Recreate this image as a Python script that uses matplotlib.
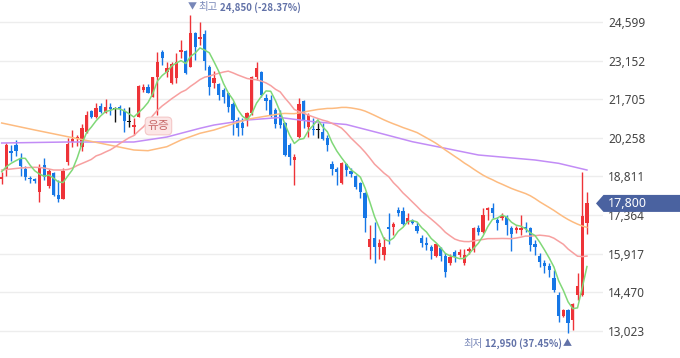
import numpy as np
import pandas as pd
import matplotlib
matplotlib.use('Agg')
import matplotlib.pyplot as plt
from matplotlib.patches import Polygon
from matplotlib.transforms import IdentityTransform

# ---------------- data ----------------
opens = [18715, 19090, 19783, 19971, 19465, 19090, 18764, 18726, 18239, 19240,
         18464, 18951, 18115, 17966, 19352, 20113, 20203, 19914, 20488, 21264,
         21050, 21451, 21200, 21425, 21365, 21425, 21264, 20863, 20675, 21050,
         22051, 22152, 21800, 22538, 23486, 22737, 22302, 22500, 23486, 23512,
         22924, 24176, 23951, 24150, 22924, 22302, 22294, 22051, 21927, 21526,
         20926, 20803, 20926, 21177, 22527, 22737, 21740, 21676, 21301, 21177,
         20803, 19989, 19427, 20300, 21638, 20675, 20589, 20563, 20465, 20240,
         19266, 19090, 18554, 19266, 19026, 18839, 18554, 18179, 16155, 16492,
         16178, 15867, 16927, 16905, 17553, 17516, 17115, 17178, 16954, 16492,
         16328, 16155, 15829, 16118, 15829, 15578, 15990, 15867, 15555, 16028,
         16054, 16867, 16740, 17553, 17617, 17178, 17242, 17302, 16867, 16804,
         16804, 16927, 16867, 16279, 15829, 15555, 15454, 14993, 14367, 13580,
         13805, 13430, 14367, 14367, 17077]
highs = [18977, 20064, 19989, 20177, 19708, 19184, 18827, 18764, 19277, 19491,
         19079, 18989, 18678, 19139, 20270, 20552, 20364, 20776, 21275, 21301,
         21552, 21575, 21702, 21552, 21425, 21489, 21365, 21425, 20990, 22238,
         22264, 22276, 22549, 23475, 23550, 23112, 23100, 23438, 23925, 23550,
         24850, 24225, 24611, 24300, 22988, 22774, 22313, 22114, 21950, 21612,
         21050, 20990, 21237, 22575, 23112, 22774, 21901, 21863, 21365, 21301,
         20863, 20053, 19641, 21740, 21676, 21177, 20990, 20803, 20803, 20364,
         19390, 19176, 19341, 19303, 19116, 18865, 18614, 18239, 16991, 17115,
         16455, 16530, 17452, 17115, 17654, 17677, 17452, 17205, 17115, 16616,
         16553, 16241, 16305, 16155, 15953, 15904, 16054, 16080, 16080, 16178,
         16905, 16991, 17617, 17654, 17804, 17302, 17430, 17366, 16954, 16954,
         17366, 17115, 16927, 16429, 15930, 15679, 15555, 15304, 14491, 13831,
         13831, 14050, 15181, 18989, 18239]
lows = [18528, 18827, 19390, 19577, 18809, 18659, 18565, 18554, 17864, 18678,
        18367, 18089, 17864, 17950, 19240, 19926, 19963, 19764, 20428, 20990,
        20990, 21177, 21177, 21114, 20863, 21114, 20488, 20675, 20364, 21039,
        21987, 21927, 21777, 21114, 22988, 22549, 22276, 22313, 23250, 22650,
        22913, 23175, 23737, 22800, 21863, 22114, 21676, 21552, 21237, 20364,
        20327, 20364, 20701, 21114, 22426, 21800, 21301, 21050, 20615, 20615,
        19577, 19240, 18490, 20240, 20615, 20300, 20364, 20240, 20177, 19764,
        18865, 18490, 18530, 18839, 18801, 18340, 17992, 16740, 15705, 15555,
        15705, 15679, 16279, 16616, 17328, 16991, 17028, 17028, 16680, 16155,
        16054, 15705, 15803, 15653, 15031, 15492, 15615, 15803, 15492, 15904,
        15990, 16616, 16702, 17178, 17242, 16804, 17178, 16616, 16028, 16680,
        16616, 16740, 16028, 15867, 15428, 15203, 15053, 14491, 13367, 13554,
        12950, 13056, 14180, 14330, 16654]
closes = [18790, 19989, 19708, 19764, 19202, 18790, 18715, 18651, 19139, 18801,
          19015, 18115, 17966, 19015, 20027, 20214, 20300, 20638, 21114, 21050,
          21387, 21237, 21425, 21339, 21365, 21327, 20900, 20863, 20739, 22201,
          22152, 21950, 22527, 23100, 23239, 22864, 23014, 23100, 23550, 22688,
          24187, 23662, 24048, 23156, 22163, 22489, 21863, 21800, 21402, 20908,
          20615, 20615, 21177, 22527, 22864, 21863, 21650, 21114, 20776, 20739,
          19615, 19551, 19551, 21515, 20926, 21114, 20540, 20563, 20214, 19989,
          19090, 18966, 19303, 19052, 18902, 18426, 18239, 17242, 16455, 16155,
          16305, 16178, 16841, 17028, 17430, 17028, 17242, 17055, 16777, 16328,
          16241, 16028, 16279, 15829, 15241, 15803, 15780, 15990, 15867, 16080,
          16867, 16740, 17366, 17617, 17430, 17077, 17328, 16991, 16654, 16867,
          16890, 16830, 16241, 16155, 15615, 15454, 15304, 14555, 13580, 13805,
          13307, 14030, 14705, 17328, 17800]

# moving-average values read from the picture where the window has no history
ma5_head = [18989, 19176, 19303, 19401]
ma20_head = [19052, 19071, 19090, 19109, 19127, 19139, 19146, 19154, 19146, 19127,
             19090, 19052, 19052, 19052, 19071, 19127, 19221, 19296, 19371]
ma60_head_idx = [0, 7, 14, 21, 28, 31, 35, 38, 42, 45, 52]
ma60_head = [20814, 20552, 20300, 20053, 19802, 19776, 19926, 20177, 20428, 20552, 20953]
ma120_idx = [0, 14, 28, 35, 42, 45, 52, 59, 66, 73, 80, 87, 94, 101, 113, 118, 124]
ma120_vals = [20064, 20102, 20102, 20289, 20615, 20739, 20926, 21020, 20863, 20758,
              20439, 20113, 19866, 19615, 19427, 19303, 19052]

y_ticks = [13023, 14470, 15917, 17364, 18811, 20258, 21705, 23152, 24599]
event_idx = 33
event_label = '유증'

# ---------------- style ----------------
UP = '#ee3338'
DOWN = '#1677e6'
FLAT = '#111111'
C_MA5 = '#80d878'
C_MA20 = '#f7a0a0'
C_MA60 = '#fdbb80'
C_MA120 = '#c28cf6'
KFONT = ['Noto Sans CJK KR', 'DejaVu Sans']
ANN_LIGHT = '#7887b8'
ANN_DARK = '#6272a8'

plt.rcParams['font.family'] = ['Noto Sans', 'Noto Sans CJK KR', 'DejaVu Sans']

W, H = 680, 358
fig = plt.figure(figsize=(W / 100, H / 100), dpi=100)
ax = fig.add_axes([0, 0, 603 / W, 1])

o = np.array(opens, float)
h = np.array(highs, float)
l = np.array(lows, float)
c = np.array(closes, float)
n = len(c)
x = np.arange(n)

ax.set_xlim(-0.36, 127.4)
ax.set_ylim(12006, 25424)

cols = [UP if cc > oo else (DOWN if cc < oo else FLAT) for oo, cc in zip(o, c)]
body_lo = np.minimum(o, c)
body_h = np.abs(c - o)
min_h = 28
body_lo = np.where(body_h < min_h, (o + c) / 2 - min_h / 2, body_lo)
body_h = np.maximum(body_h, min_h)

ax.vlines(x, l, h, colors=cols, linewidth=1.0, zorder=3)
ax.bar(x, body_h, bottom=body_lo, width=0.7, color=cols, linewidth=0, zorder=4)

# moving averages
s = pd.Series(c)
ma5 = s.rolling(5).mean().to_numpy()
ma20 = s.rolling(20).mean().to_numpy()
ma60 = s.rolling(60).mean().to_numpy()

x5 = list(range(4)) + list(range(4, n))
y5 = ma5_head + list(ma5[4:])
x20 = list(range(19)) + list(range(19, n))
y20 = ma20_head + list(ma20[19:])
x60 = ma60_head_idx + list(range(59, n))
y60 = ma60_head + list(ma60[59:])

ax.plot(ma120_idx, ma120_vals, color=C_MA120, lw=1.1, zorder=5)
ax.plot(x60, y60, color=C_MA60, lw=1.1, zorder=5)
ax.plot(x20, y20, color=C_MA20, lw=1.1, zorder=5)
ax.plot(x5, y5, color=C_MA5, lw=1.1, zorder=6)

# axes styling
ax.set_yticks(y_ticks)
ax.set_yticklabels([f'{t:,}' for t in y_ticks])
ax.yaxis.tick_right()
ax.tick_params(axis='y', length=0, pad=3.6, labelsize=8.5, labelcolor='#444444')
ax.set_xticks([])
ax.grid(axis='y', color='#ededed', linewidth=1)
ax.set_axisbelow(True)
for sp in ax.spines.values():
    sp.set_visible(False)

# event label
ax.annotate(event_label, xy=(event_idx, l[event_idx]), xytext=(1, -11),
            textcoords='offset pixels', ha='center', va='center',
            fontsize=8.5, color='#c86a6a', family=KFONT, zorder=8,
            bbox=dict(boxstyle='round,pad=0.2,rounding_size=0.35',
                      fc='#fce6e6', ec='#f4c8c8', lw=0.8))

# high / low annotations
hi_i = int(np.argmax(h))
lo_i = int(np.argmin(l))
last = c[-1]
pct_hi = (last - h[hi_i]) / h[hi_i] * 100
pct_lo = (last - l[lo_i]) / l[lo_i] * 100

fig.canvas.draw()
r = fig.canvas.get_renderer()
FS_K = 7.5
FS_N = 7.0

t1 = ax.annotate('▼', xy=(hi_i, h[hi_i]), xytext=(-3, 8),
                 textcoords='offset pixels', ha='left', va='center',
                 fontsize=6.5, color=ANN_LIGHT, family=KFONT, zorder=9)
bb = t1.get_window_extent(r)
yc = (bb.y0 + bb.y1) / 2
t2 = fig.text(bb.x1 + 2, yc, '최고', transform=IdentityTransform(), ha='left',
              va='center', fontsize=FS_K, color=ANN_LIGHT, family=KFONT)
bb2 = t2.get_window_extent(r)
fig.text(bb2.x1 + 2, yc, f'{h[hi_i]:,.0f} ({pct_hi:.2f}%)',
         transform=IdentityTransform(), ha='left', va='center', fontsize=FS_N,
         color=ANN_DARK, family=KFONT, weight='bold')

t3 = ax.annotate('▲', xy=(lo_i, l[lo_i]), xytext=(4, -11),
                 textcoords='offset pixels', ha='right', va='center',
                 fontsize=6.5, color=ANN_DARK, family=KFONT, zorder=9)
bb3 = t3.get_window_extent(r)
yc3 = (bb3.y0 + bb3.y1) / 2
t4 = fig.text(bb3.x0 - 1, yc3, f'{l[lo_i]:,.0f} ({pct_lo:.2f}%)',
              transform=IdentityTransform(), ha='right', va='center', fontsize=FS_N,
              color=ANN_DARK, family=KFONT, weight='bold')
bb4 = t4.get_window_extent(r)
fig.text(bb4.x0 - 2, yc3, '최저',
         transform=IdentityTransform(), ha='right', va='center', fontsize=FS_K,
         color=ANN_LIGHT, family=KFONT)

# last price tag
yd = ax.transData.transform((0, last))[1]
hh = 8.5
tag = Polygon([(596, yd), (603.5, yd + hh), (W, yd + hh), (W, yd - hh), (603.5, yd - hh)],
              closed=True, transform=IdentityTransform(), fc='#4a62a0', ec='none', zorder=20)
fig.patches.append(tag)
fig.text(608, yd, f'{last:,.0f}', transform=IdentityTransform(), ha='left', va='center',
         fontsize=9, color='white', zorder=21)

fig.savefig('out.png', dpi=100)
